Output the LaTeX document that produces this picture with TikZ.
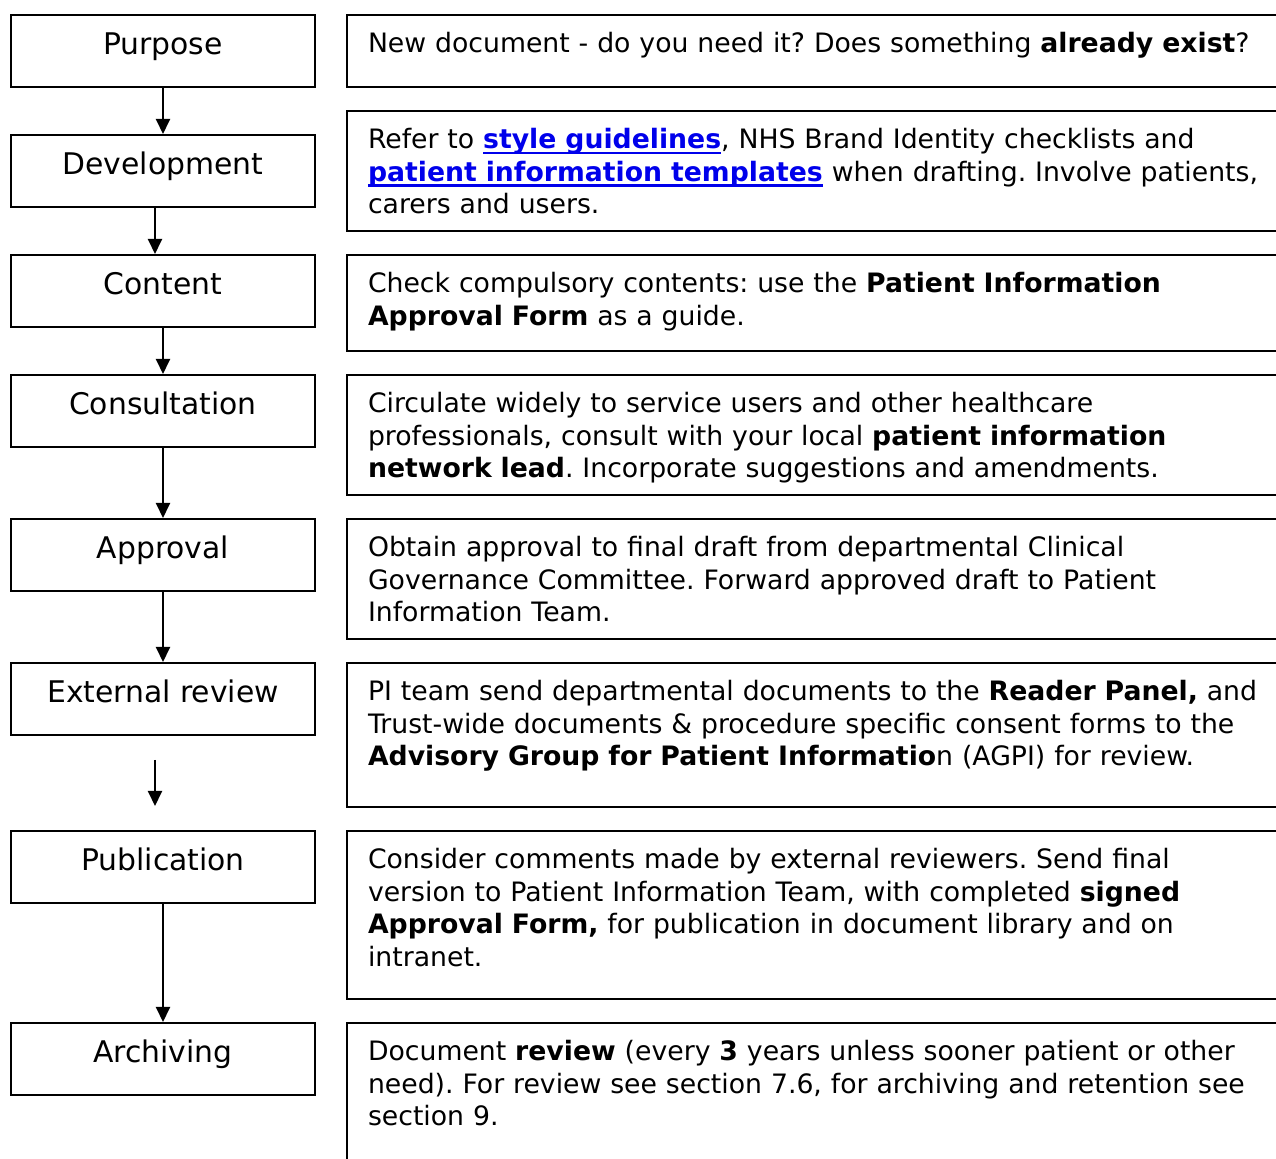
\documentclass[tikz,border=0pt]{standalone}
\usepackage{fontspec}
\setmainfont{DejaVu Sans}
\usetikzlibrary{arrows.meta}
\definecolor{linkblue}{RGB}{0,0,235}
\newcommand\lnk[1]{\textcolor{linkblue}{\bfseries\setbox0\hbox{#1}\rlap{\rule[-2.6pt]{\wd0}{1.1pt}}\box0}}
\frenchspacing

\begin{document}
\begin{tikzpicture}[x=0.5pt,y=-0.5pt,
    font=\fontsize{13.35pt}{16.25pt}\selectfont,
    stage/.style={draw,line width=1pt,anchor=north west,minimum width=152pt,inner sep=0pt,
        align=center,font=\fontsize{14.9pt}{18pt}\selectfont,text height=20pt,text depth=16pt},
    note/.style={draw,line width=1pt,anchor=north west,inner xsep=10.5pt,inner ysep=0pt,
        text width=480pt,align=left,text height=19pt},
    flow/.style={line width=1pt,-{Triangle[length=7.5pt,width=7pt]}}]
        \clip (0,0) rectangle (1276,1159);
        \node[stage] (purpose) at (10,14) {Purpose};
        \node[stage] (develop) at (10,134) {Development};
        \node[stage] (content) at (10,254) {Content};
        \node[stage] (consult) at (10,374) {Consultation};
        \node[stage] (approve) at (10,518) {Approval};
        \node[stage] (extrev) at (10,662) {External review};
        \node[stage] (publish) at (10,830) {Publication};
        \node[stage] (archive) at (10,1022) {Archiving};
        \node[note,text depth=17pt] (purpose-n) at (346,14)
            {New document - do you need it? Does something \textbf{already exist}?};
        \node[note,text depth=41pt] (develop-n) at (346,110)
            {Refer to \lnk{style guidelines}, NHS Brand Identity checklists and\\
             \lnk{patient information templates} when drafting. Involve patients,\\
             carers and users.};
        \node[note,text depth=29pt] (content-n) at (346,254)
            {Check compulsory contents: use the \textbf{Patient Information}\\
             \textbf{Approval Form} as a guide.};
        \node[note,text depth=41pt] (consult-n) at (346,374)
            {Circulate widely to service users and other healthcare\\
             professionals, consult with your local \textbf{patient information}\\
             \textbf{network lead}. Incorporate suggestions and amendments.};
        \node[note,text depth=41pt] (approve-n) at (346,518)
            {Obtain approval to final draft from departmental Clinical\\
             Governance Committee. Forward approved draft to Patient\\
             Information Team.};
        \node[note,text depth=53pt] (extrev-n) at (346,662)
            {PI team send departmental documents to the \textbf{Reader Panel,} and\\
             Trust-wide documents \& procedure specific consent forms to the\\
             \textbf{Advisory Group for Patient Informatio}n (AGPI) for review.};
        \node[note,text depth=65pt] (publish-n) at (346,830)
            {Consider comments made by external reviewers. Send final\\
             version to Patient Information Team, with completed \textbf{signed}\\
             \textbf{Approval Form,} for publication in document library and on\\
             intranet.};
        \node[note,text depth=81pt] (archive-n) at (346,1022)
            {Document \textbf{review} (every \textbf{3} years unless sooner patient or other\\
             need). For review see section 7.6, for archiving and retention see\\
             section 9.};
        \draw[flow] (purpose) -- (develop);
        \draw[flow] ([xshift=-4pt]develop.south) -- ([xshift=-4pt]content.north);
        \draw[flow] (content) -- (consult);
        \draw[flow] (consult) -- (approve);
        \draw[flow] (approve) -- (extrev);
        \draw[flow] ([xshift=-4pt,yshift=-12pt]extrev.south) -- ([xshift=-4pt,yshift=12pt]publish.north);
        \draw[flow] (publish) -- (archive);
    \end{tikzpicture}
\end{document}
